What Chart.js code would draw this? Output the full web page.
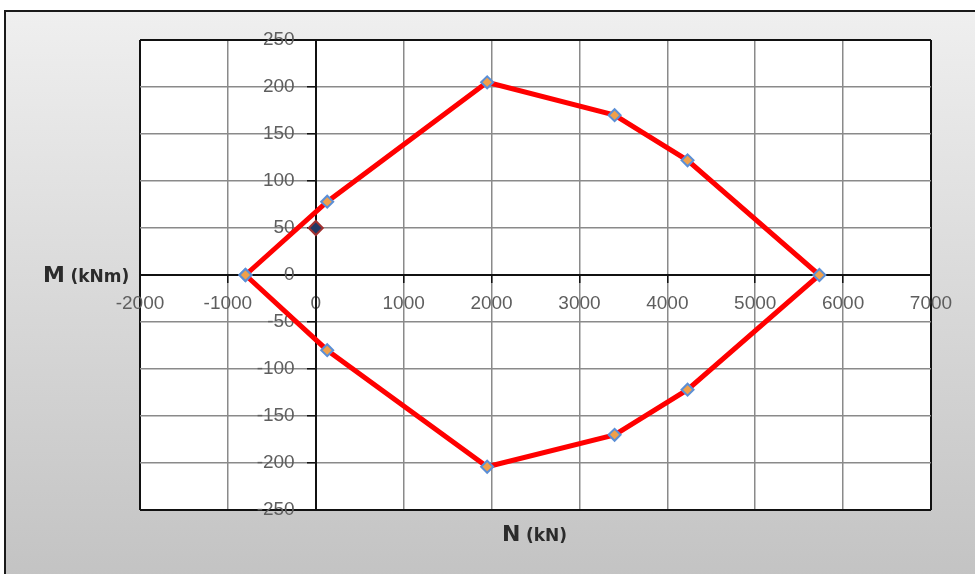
<!DOCTYPE html>
<html>
<head>
<meta charset="utf-8">
<script src="https://cdn.jsdelivr.net/npm/chart.js@4.4.1/dist/chart.umd.min.js"></script>
<style>
    html, body { margin: 0; padding: 0; background: #fff; }
    #wrap { position: relative; width: 975px; height: 574px; overflow: hidden; }
    #frame {
        position: absolute; left: 4px; top: 10px; width: 990px; height: 580px;
        border: 2px solid #1a1a1a;
        background: linear-gradient(#efefef, #c2c2c2);
    }
    #chartBox { position: absolute; left: 0; top: 0; width: 975px; height: 574px; }
    .axisTitle { position: absolute; font-family: "DejaVu Sans", sans-serif; font-weight: bold; color: #2b2b2b; white-space: nowrap; }
    .axisTitle .big { font-size: 22px; }
    .axisTitle .small { font-size: 17px; }
</style>
</head>
<body>
<div id="wrap">
    <div id="frame"></div>
    <div id="chartBox"><canvas id="nmChart" width="975" height="574"></canvas></div>
    <div class="axisTitle" style="left:43px; top:262px;"><span class="big">M</span> <span class="small">(kNm)</span></div>
    <div class="axisTitle" style="left:502px; top:521px;"><span class="big">N</span> <span class="small">(kN)</span></div>
</div>
<script>
// interaction domain N-M, closed polygon
const nValues = [-800, 130, 1950, 3400, 4230, 5730, 4230, 3400, 1950, 130, -800];
const mValues = [0, 78, 205, 170, 122, 0, -122, -170, -204, -80, 0];

// design load point
const nLoad = [0];
const mLoad = [50];

const nTicks = [-2000, -1000, 0, 1000, 2000, 3000, 4000, 5000, 6000, 7000];
const mTicks = [-250, -200, -150, -100, -50, 0, 50, 100, 150, 200, 250];

function toPoints(xs, ys) {
    return xs.map(function (x, i) { return { x: x, y: ys[i] }; });
}

const tickFont = { family: "'Liberation Sans', Arial, sans-serif", size: 19 };

// white plot area over the grey frame
const plotBackground = {
    id: 'plotBackground',
    beforeDraw: function (chart) {
        const a = chart.chartArea;
        const c = chart.ctx;
        c.save();
        c.fillStyle = '#ffffff';
        c.fillRect(a.left, a.top, a.right - a.left, a.bottom - a.top);
        c.restore();
    }
};

function edgeColor(list) {
    return function (c) {
        const v = c.tick ? c.tick.value : null;
        return (v === list[0] || v === list[list.length - 1]) ? '#111' : '#8a8a8a';
    };
}

function edgeWidth(list) {
    return function (c) {
        const v = c.tick ? c.tick.value : null;
        return (v === list[0] || v === list[list.length - 1]) ? 2 : 1.5;
    };
}

const ctx = document.getElementById('nmChart').getContext('2d');

new Chart(ctx, {
    type: 'scatter',
    data: {
        datasets: [{
            label: 'Domain',
            data: toPoints(nValues, mValues),
            showLine: true,
            borderColor: '#ff0000',
            borderWidth: 5,
            pointStyle: 'rectRot',
            pointRadius: 6,
            pointBackgroundColor: '#f0a04b',
            pointBorderColor: '#5b8fd6',
            pointBorderWidth: 2
        }, {
            label: 'Load',
            data: toPoints(nLoad, mLoad),
            pointStyle: 'rectRot',
            pointRadius: 7,
            pointBackgroundColor: '#1f3864',
            pointBorderColor: '#a03030',
            pointBorderWidth: 2
        }]
    },
    plugins: [plotBackground],
    options: {
        responsive: false,
        animation: false,
        layout: { padding: { left: 140, right: 44, top: 40, bottom: 64 } },
        plugins: {
            legend: { display: false },
            tooltip: { enabled: false }
        },
        scales: {
            x: {
                type: 'linear',
                min: nTicks[0],
                max: nTicks[nTicks.length - 1],
                position: { y: 0 },
                afterBuildTicks: function (scale) {
                    scale.ticks = nTicks.map(function (v) { return { value: v }; });
                },
                ticks: {
                    color: '#5e5e5e',
                    font: tickFont,
                    padding: 10,
                    maxRotation: 0,
                    autoSkip: false,
                    callback: function (v) { return String(v); }
                },
                grid: {
                    color: edgeColor(nTicks),
                    lineWidth: edgeWidth(nTicks),
                    tickColor: '#111',
                    tickLength: 7
                },
                border: { color: '#111', width: 2 }
            },
            y: {
                type: 'linear',
                min: mTicks[0],
                max: mTicks[mTicks.length - 1],
                position: { x: 0 },
                afterBuildTicks: function (scale) {
                    scale.ticks = mTicks.map(function (v) { return { value: v }; });
                },
                ticks: {
                    color: '#5e5e5e',
                    font: tickFont,
                    autoSkip: false,
                    // a centred y axis ignores ticks.padding, so keep the gap with trailing spaces
                    callback: function (v) { return String(v) + '    '; }
                },
                grid: {
                    color: edgeColor(mTicks),
                    lineWidth: edgeWidth(mTicks),
                    tickColor: '#111',
                    tickLength: 8
                },
                border: { color: '#111', width: 2 }
            }
        }
    }
});
</script>
</body>
</html>
